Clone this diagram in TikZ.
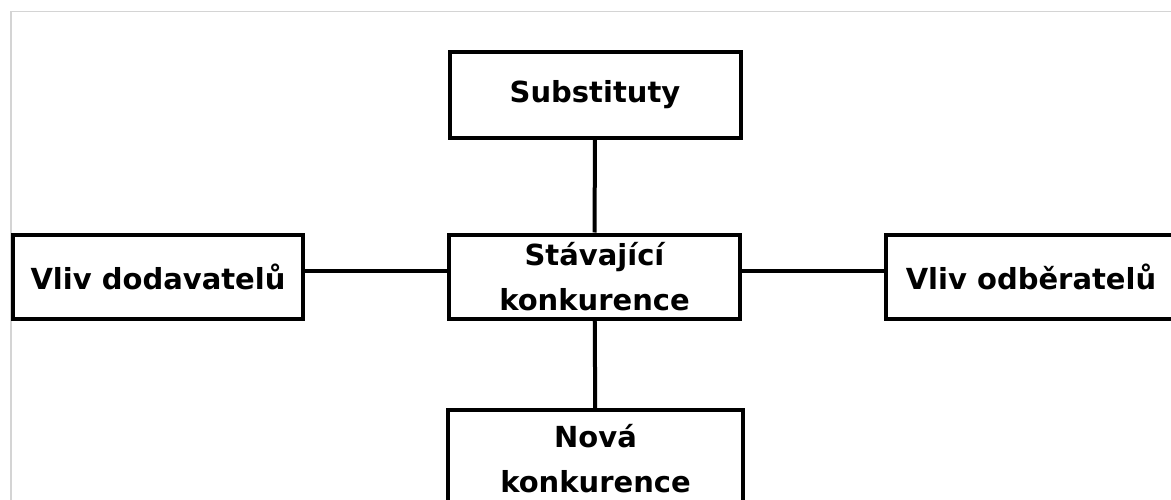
\documentclass[tikz,border=0pt]{standalone}
\usepackage{fontspec}
\setmainfont{DejaVu Sans}
\usetikzlibrary{positioning}

\begin{document}
\begin{tikzpicture}
  [
  x=1pt, y=-1pt, line width=4pt, draw=black,
  forcebox/.style={rectangle, draw=black, line width=4pt, minimum width=291pt,
    minimum height=84pt, inner sep=0pt, align=center,
    font={\fontsize{29}{45}\selectfont\bfseries}}
  ]

  \useasboundingbox (0,0) rectangle (1171,500);
  \clip (0,0) rectangle (1171,500);

  % light frame
  \draw[line width=1.5pt, color=black!17] (11,520) -- (11,11.5) -- (1190,11.5);

  \node[forcebox, minimum height=86pt] (sub) at (595,95) {Substituty};
  \node[forcebox] (cur) at (594.5,276.5) {Stávající\\konkurence};
  \node[forcebox, minimum width=290pt] (sup) at (158,276.5) {Vliv dodavatelů};
  \node[forcebox, minimum width=290pt] (buy) at (1031,276.5) {Vliv odběratelů};
  \node[forcebox, minimum width=295pt, minimum height=98pt] (new) at (595.5,459) {Nová\\konkurence};

  \draw (sub) -- (cur);
  \draw (cur) -- (new);
  \draw ([yshift=6pt]sup.east) -- ([yshift=6pt]cur.west);
  \draw ([yshift=6pt]cur.east) -- ([yshift=6pt]buy.west);
\end{tikzpicture}
\end{document}
